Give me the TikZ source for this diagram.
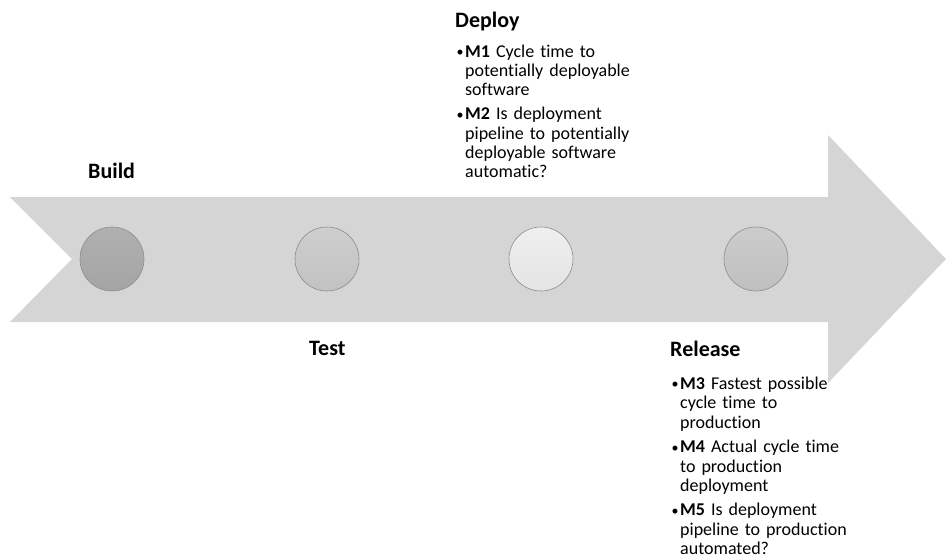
\documentclass[tikz,border=0pt]{standalone}
\usepackage{fontspec}
\setmainfont{Carlito}[Ligatures=NoCommon]
\definecolor{arrowfill}{HTML}{D5D5D5}
\definecolor{circ}{HTML}{8C8C8C}
\newcommand\bitem[2]{\par\noindent\hangindent=10pt\hangafter=1\makebox[10pt][l]{\hspace{1.5pt}{\fontsize{14}{14}\selectfont\raisebox{0.8pt}{\textbullet}}}\textbf{#1} #2}
\begin{document}
\begin{tikzpicture}[x=1pt,y=-1pt,
  hdr/.style={font=\fontsize{22}{26}\selectfont\bfseries, anchor=base west, inner sep=0pt},
  blist/.style={font=\fontsize{18}{19.2}\selectfont, anchor=base west, inner sep=0pt, text width=230pt},
  dot/.style={circle, minimum size=64pt, draw=circ, line width=0.6pt, inner sep=0pt}]
\useasboundingbox (0,0) rectangle (946,557);
% arrow
\path[fill=arrowfill] (10,197) -- (828,197) -- (828,135) -- (946,259) -- (828,383) -- (828,322) -- (10,322) -- (72,259) -- cycle;
% circles
\node[dot, top color={rgb,255:red,176;green,176;blue,176}, bottom color={rgb,255:red,164;green,164;blue,164}] (cbuild) at (112,259) {};
\node[dot, top color={rgb,255:red,206;green,206;blue,206}, bottom color={rgb,255:red,194;green,194;blue,194}] (ctest) at (327,259) {};
\node[dot, top color={rgb,255:red,239;green,239;blue,239}, bottom color={rgb,255:red,228;green,228;blue,228}] (cdeploy) at (541,259) {};
\node[dot, top color={rgb,255:red,204;green,204;blue,204}, bottom color={rgb,255:red,191;green,191;blue,191}] (crelease) at (756,259) {};
% headers
\node[hdr] (hbuild) at (88,178) {Build};
\node[hdr] (htest) at (309,355) {Test};
\node[hdr] (hdeploy) at (455,27) {Deploy};
\node[hdr] (hrelease) at (670,356) {Release};
% lists
\node[blist] (ldeploy) at (455,38) {\raggedright
  \bitem{M1}{Cycle time to\newline potentially deployable\newline software}\par\vspace{5pt}
  \bitem{M2}{Is deployment\newline pipeline to potentially\newline deployable software\newline automatic?}\par};
\node[blist] (lrelease) at (670,370.5) {\raggedright
  \bitem{M3}{Fastest possible\newline cycle time to\newline production}\par\vspace{5.5pt}
  \bitem{M4}{Actual cycle time\newline to production\newline deployment}\par\vspace{5.5pt}
  \bitem{M5}{Is deployment\newline pipeline to production\newline automated?}\par};
\end{tikzpicture}
\end{document}
